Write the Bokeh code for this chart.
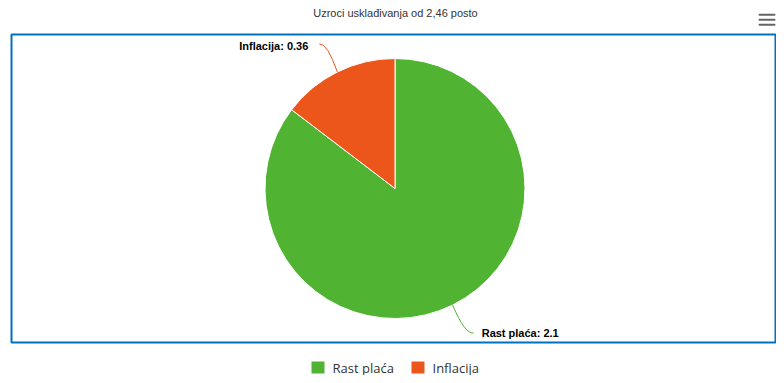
import math
from bokeh.plotting import figure
from bokeh.models import Range1d
from bokeh.core.properties import value
from bokeh.embed import file_html
from bokeh.resources import INLINE

# ---- data ----
title_text = "Uzroci usklađivanja od 2,46 posto"
categories = ["Rast plaća", "Inflacija"]
values = [2.1, 0.36]
colors = ["#50B432", "#ED561B"]

# ---- layout (pixel coordinates from top-left of the chart) ----
W, H = 776, 375
def Y(py):
    return H - py

p = figure(width=W, height=H, output_backend="svg", toolbar_location=None,
           x_range=Range1d(0, W), y_range=Range1d(0, H),
           min_border=0, min_border_left=0, min_border_right=0,
           min_border_top=0, min_border_bottom=0)
p.axis.visible = False
p.grid.visible = False
p.outline_line_color = None
p.background_fill_color = "white"
p.border_fill_color = "white"

# title
p.text(x=[395], y=[Y(12)], text=[title_text], text_align="center", text_baseline="middle",
       text_font=value("Liberation Sans"), text_font_size=value("11px"), text_color="#333333")

# hamburger icon
for yy in [14.3, 19.3, 24.3]:
    p.segment(x0=[759], y0=[Y(yy)], x1=[774], y1=[Y(yy)], line_color="#666666",
              line_width=2, line_cap="round")

# blue border box
p.quad(left=[11], right=[775], top=[Y(34)], bottom=[Y(342)], fill_color=None,
       line_color="#0070C0", line_width=2)

# pie
cx, cy, r = 394.5, Y(188), 130
total = sum(values)
starts, ends, mids = [], [], []
acc = 0.0
for v in values:
    a0 = math.pi / 2 - 2 * math.pi * acc / total
    acc += v
    a1 = math.pi / 2 - 2 * math.pi * acc / total
    starts.append(a0)
    ends.append(a1)
    mids.append((a0 + a1) / 2)

p.wedge(x=[cx] * len(values), y=[cy] * len(values), radius=r,
        start_angle=starts, end_angle=ends, direction="clock",
        fill_color=colors, line_color="white", line_width=1)

# data labels + connectors
for cat, v, col, m in zip(categories, values, colors, mids):
    ax = cx + r * math.cos(m)
    ay = cy + r * math.sin(m)
    label = f"{cat}: {v:g}"
    if math.cos(m) < 0:
        ex, ey = ax - 18, ay + 28
        p.quadratic(x0=[ax], y0=[ay], x1=[ex], y1=[ey], cx=[ax - 10], cy=[ey + 1],
                    line_color=col, line_width=1)
        p.text(x=[ex - 11], y=[ey - 2.5], text=[label], text_align="right",
               text_baseline="middle", text_font=value("Liberation Sans"),
               text_font_size=value("11px"), text_font_style="bold", text_color="#000000")
    else:
        ex, ey = ax + 21, ay - 28
        p.quadratic(x0=[ax], y0=[ay], x1=[ex], y1=[ey], cx=[ax + 12], cy=[ey - 1],
                    line_color=col, line_width=1)
        p.text(x=[ex + 8], y=[ey], text=[label], text_align="left",
               text_baseline="middle", text_font=value("Liberation Sans"),
               text_font_size=value("11px"), text_font_style="bold", text_color="#000000")

# legend
leg_x = [311, 411]
for lx, cat, col in zip(leg_x, categories, colors):
    p.quad(left=[lx], right=[lx + 13], top=[Y(361)], bottom=[Y(373)],
           fill_color=col, line_color=None)
    p.text(x=[lx + 21], y=[Y(367)], text=[cat], text_align="left", text_baseline="middle",
           text_font=value("Open Sans"), text_font_size=value("13px"), text_color="#333333")

open("out.html", "w").write(file_html(p, INLINE))
